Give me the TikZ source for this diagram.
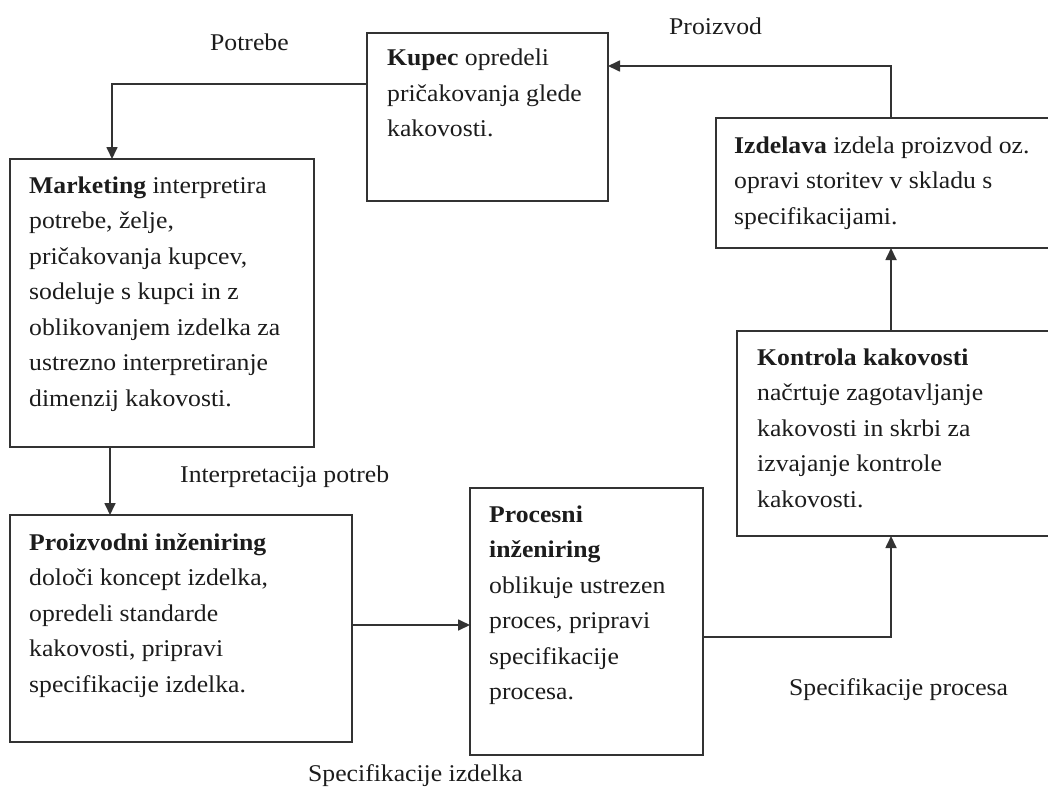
\documentclass[tikz,border=0pt]{standalone}
\usepackage{fontspec}
\setmainfont{Liberation Serif}[FakeStretch=1.07]
\usetikzlibrary{arrows.meta}
\definecolor{ink}{HTML}{1C1C1C}
\definecolor{rule}{HTML}{333333}
% text block whose reference point is the first baseline
\newcommand{\blocktext}[1]{\parbox[t]{12cm}{\raggedright #1}}
\tikzset{
  x=1pt, y=-1pt,
  every node/.style={font=\fontsize{24}{35.5}\selectfont, text=ink},
  stagebox/.style={draw=rule, line width=1.8pt, rectangle, inner sep=0pt, outer sep=0pt, anchor=north west, fill=white},
  stagetext/.style={inner sep=0pt, anchor=base west},
  flowlabel/.style={inner sep=0pt, anchor=base west},
  flow/.style={draw=rule, line width=1.7pt, -{Triangle[length=12pt,width=11pt]}},
}
\begin{document}
\begin{tikzpicture}
\useasboundingbox (0,0) rectangle (1048,797);
\fill[white] (0,0) rectangle (1048,797);
\clip (0,0) rectangle (1048,797);

% stage boxes
\node[stagebox, minimum width=241, minimum height=168] (kupec) at (367,33) {};
\node[stagebox, minimum width=304, minimum height=288] (marketing) at (10,159) {};
\node[stagebox, minimum width=345, minimum height=130] (izdelava) at (716,118) {};
\node[stagebox, minimum width=325, minimum height=205] (kontrola) at (737,331) {};
\node[stagebox, minimum width=233, minimum height=267] (procesni) at (470,488) {};
\node[stagebox, minimum width=342, minimum height=227] (proizvodni) at (10,515) {};

% stage descriptions
\node[stagetext] (kupec-t) at ([xshift=20,yshift=-33]kupec.north west)
  {\blocktext{\textbf{Kupec} opredeli\\pričakovanja glede\\kakovosti.}};
\node[stagetext] (marketing-t) at ([xshift=19,yshift=-34]marketing.north west)
  {\blocktext{\textbf{Marketing} interpretira\\potrebe, želje,\\pričakovanja kupcev,\\sodeluje s kupci in z\\oblikovanjem izdelka za\\ustrezno interpretiranje\\dimenzij kakovosti.}};
\node[stagetext] (izdelava-t) at ([xshift=18,yshift=-35]izdelava.north west)
  {\blocktext{\textbf{Izdelava} izdela proizvod oz.\\opravi storitev v skladu s\\specifikacijami.}};
\node[stagetext] (kontrola-t) at ([xshift=20,yshift=-34]kontrola.north west)
  {\blocktext{\textbf{Kontrola kakovosti}\\načrtuje zagotavljanje\\kakovosti in skrbi za\\izvajanje kontrole\\kakovosti.}};
\node[stagetext] (procesni-t) at ([xshift=19,yshift=-34]procesni.north west)
  {\blocktext{\textbf{Procesni}\\\textbf{inženiring}\\oblikuje ustrezen\\proces, pripravi\\specifikacije\\procesa.}};
\node[stagetext] (proizvodni-t) at ([xshift=19,yshift=-35]proizvodni.north west)
  {\blocktext{\textbf{Proizvodni inženiring}\\določi koncept izdelka,\\opredeli standarde\\kakovosti, pripravi\\specifikacije izdelka.}};

% flows between stages
\draw[flow] ([yshift=-51]kupec.north west) -| ([xshift=102]marketing.north west);
\draw[flow] ([xshift=100]marketing.south west) -- ([xshift=100]proizvodni.north west);
\draw[flow] ([yshift=-110]proizvodni.north east) -- ([yshift=-137]procesni.north west);
\draw[flow] ([yshift=-149]procesni.north east) -| ([xshift=154]kontrola.south west);
\draw[flow] ([xshift=154]kontrola.north west) -- ([xshift=175]izdelava.south west);
\draw[flow] ([xshift=175]izdelava.north west) |- ([yshift=-33]kupec.north east);

% flow labels
\node[flowlabel] (l-potrebe) at (210,51) {Potrebe};
\node[flowlabel] (l-proizvod) at (669,35) {Proizvod};
\node[flowlabel] (l-interp) at (180,482) {Interpretacija potreb};
\node[flowlabel] (l-specizd) at (308,781) {Specifikacije izdelka};
\node[flowlabel] (l-specproc) at (789,695) {Specifikacije procesa};
\end{tikzpicture}
\end{document}
